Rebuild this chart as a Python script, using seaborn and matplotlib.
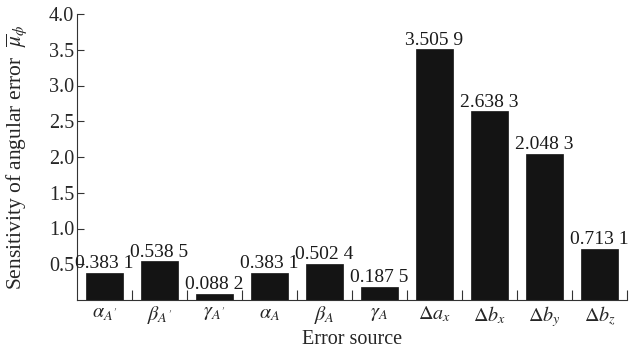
import matplotlib
matplotlib.use("Agg")
import matplotlib.pyplot as plt
import seaborn as sns
import pandas as pd
from matplotlib.ticker import FixedLocator

sources = [r"$\alpha_{A'}$", r"$\beta_{A'}$", r"$\gamma_{A'}$", r"$\alpha_{A}$", r"$\beta_{A}$",
           r"$\gamma_{A}$", r"$\Delta a_x$", r"$\Delta b_x$", r"$\Delta b_y$", r"$\Delta b_z$"]
values = [0.3831, 0.5385, 0.0882, 0.3831, 0.5024, 0.1875, 3.5059, 2.6383, 2.0483, 0.7131]
value_labels = ["0.383 1", "0.538 5", "0.088 2", "0.383 1", "0.502 4",
                "0.187 5", "3.505 9", "2.638 3", "2.048 3", "0.713 1"]
y_ticks = [0.5, 1.0, 1.5, 2.0, 2.5, 3.0, 3.5, 4.0]

sns.set_style("ticks")
plt.rcParams["font.family"] = ["Liberation Serif", "DejaVu Serif"]
plt.rcParams["mathtext.fontset"] = "stix"

df = pd.DataFrame({"source": sources, "value": values})

fig = plt.figure(figsize=(6.38, 3.56), dpi=100)
ax = fig.add_axes([77/638, 1-300/356, 550/638, 286/356])
sns.barplot(data=df, x="source", y="value", color="#141414", width=0.68,
            edgecolor="#141414", linewidth=0.5, saturation=1, ax=ax)

for i, (v, lab) in enumerate(zip(values, value_labels)):
    ax.annotate(lab, (i, v), xytext=(0, 0.5), textcoords="offset points",
                ha="center", va="bottom", fontsize=14, color="#1a1a1a")

ax.set_xlim(-0.5, 9.5)
ax.set_ylim(0, 4.0)
ax.set_yticks(y_ticks)
ax.set_yticklabels([f"{t:.1f}" for t in y_ticks])
ax.xaxis.set_minor_locator(FixedLocator([i + 0.5 for i in range(10)]))
ax.tick_params(axis="x", which="major", length=0, labelsize=14.5, pad=3)
ax.tick_params(axis="x", which="minor", direction="in", length=7, width=0.8, color="#333333")
ax.tick_params(axis="y", which="major", direction="in", length=5, width=0.8,
               labelsize=14.5, pad=2, color="#333333")
for s in ["top", "right"]:
    ax.spines[s].set_visible(False)
for s in ["left", "bottom"]:
    ax.spines[s].set_linewidth(0.8)
    ax.spines[s].set_color("#333333")

ax.set_xlabel("Error source", fontsize=14.5, labelpad=1)
ax.set_ylabel(r"Sensitivity of angular error  $\overline{\mu}_{\phi}$", fontsize=15.5)
ax.yaxis.set_label_coords(-0.088, 0.5)

fig.savefig("out.png", dpi=100)
